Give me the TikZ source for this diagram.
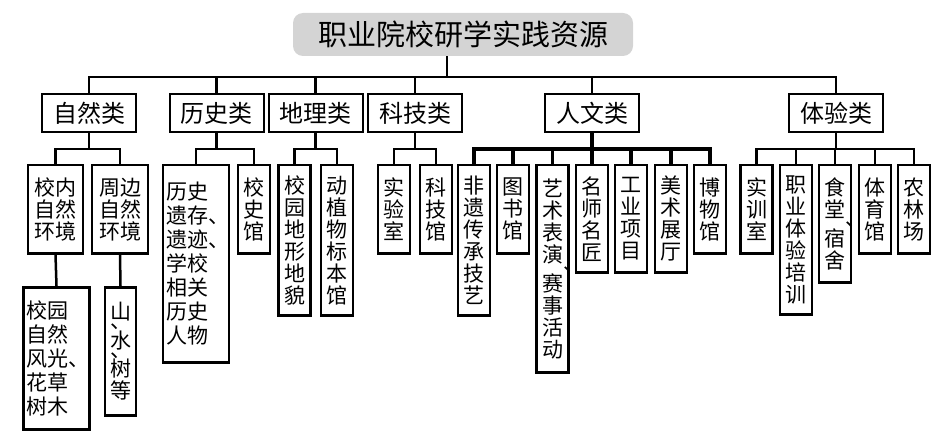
\documentclass[tikz,border=0pt]{standalone}
\usepackage{fontspec}
\newfontfamily\cjk{Noto Sans CJK SC}
\usepackage{tikz}
\definecolor{titlegray}{RGB}{212,212,212}
\newcommand{\dunR}{\rlap{\raisebox{-9pt}{、}}}
\newcommand{\dunL}{\rlap{\hspace{-1em}\raisebox{-9pt}{、}}}
\tikzstyle{title} = [rectangle, rounded corners=10pt, fill=titlegray, minimum width=340pt, minimum height=43pt, inner sep=0pt, font=\cjk\fontsize{29}{30}\selectfont]
\tikzstyle{category} = [rectangle, draw=black, line width=2pt, minimum width=94pt, minimum height=38pt, inner sep=0pt, font=\cjk\fontsize{24}{26}\selectfont]
\tikzstyle{column} = [rectangle, draw=black, line width=2.5pt, anchor=north, minimum width=32pt, inner sep=0pt, align=center, font=\cjk\fontsize{21}{22}\selectfont]
\tikzstyle{wide} = [rectangle, draw=black, line width=2.5pt, anchor=north, text width=60pt, inner xsep=3pt, inner ysep=0pt, align=left, font=\cjk\fontsize{21}{24}\selectfont]
\tikzstyle{link} = [line width=2.5pt]

\begin{document}
\begin{tikzpicture}[x=1pt, y=-1pt]
    \useasboundingbox (0,0) rectangle (948,433);
    % root and categories
    \node (root) [title] at (463,34.5) {职业院校研学实践资源};
    \node (ziran) [category] at (89,113) {自然类};
    \node (lishi) [category] at (216.5,113) {历史类};
    \node (dili) [category] at (315.5,113) {地理类};
    \node (keji) [category] at (415,113) {科技类};
    \node (renwen) [category] at (592,113) {人文类};
    \node (tiyan) [category] at (836,113) {体验类};
    % second level
    \node (xiaonei) [column, minimum width=55pt, minimum height=88pt] at (55.5,164) {校内\\自然\\环境};
    \node (zhoubian) [column, minimum width=56pt, minimum height=88pt] at (120,164) {周边\\自然\\环境};
    \node (yicun) [wide, minimum height=197pt] at (196,164) {历史\\遗存、\\遗迹、\\学校\\相关\\历史\\人物};
    \node (xiaoshi) [column, minimum height=88pt] at (254,164) {校\\史\\馆};
    \node (dimao) [column, minimum height=150pt] at (294.5,164) {校\\园\\地\\形\\地\\貌};
    \node (biaoben) [column, minimum height=150pt] at (337,164) {动\\植\\物\\标\\本\\馆};
    \node (shiyan) [column, minimum height=88pt] at (394,164) {实\\验\\室};
    \node (kejiguan) [column, minimum height=88pt] at (436,164) {科\\技\\馆};
    \node (feiyi) [column, minimum height=150pt] at (474,164) {非\\遗\\传\\承\\技\\艺};
    \node (tushu) [column, minimum height=88pt] at (513,164) {图\\书\\馆};
    \node (yishu) [column, minimum height=207pt] at (552.5,164) {艺\\术\\表\\演\dunR\\赛\\事\\活\\动};
    \node (mingshi) [column, minimum height=107pt] at (592,164) {名\\师\\名\\匠};
    \node (gongye) [column, minimum height=107pt] at (631,164) {工\\业\\项\\目};
    \node (meishu) [column, minimum height=107pt] at (671,164) {美\\术\\展\\厅};
    \node (bowu) [column, minimum height=88pt] at (710,164) {博\\物\\馆};
    \node (shixun) [column, minimum height=88pt] at (756.5,164) {实\\训\\室};
    \node (zhiye) [column, minimum height=149pt] at (796,164) {职\\业\\体\\验\\培\\训};
    \node (shitang) [column, minimum height=117pt] at (835,164) {食\\堂\dunR\\宿\\舍};
    \node (tiyu) [column, minimum height=88pt] at (875,164) {体\\育\\馆};
    \node (nonglin) [column, minimum height=88pt] at (914,164) {农\\林\\场};
    % third level
    \node (xiaoyuan) [wide, minimum height=142pt] at (56.5,286) {校园\\自然\\风光、\\花草\\树木};
    \node (shanshui) [column, minimum width=31pt, minimum height=128pt] at (120.5,286) {山\dunL\\水\dunL\\树\\等};
    % connectors
    \coordinate (rootbus) at (447,77);
    \draw [link] (root.south -| rootbus) -- (rootbus);
    \draw [link] (rootbus) -| (ziran.north);
    \draw [link] (rootbus) -| (lishi.north);
    \draw [link] (rootbus) -| (dili.north);
    \draw [link] (rootbus) -| (keji.north);
    \draw [link] (rootbus) -| (renwen.north);
    \draw [link] (rootbus) -| (tiyan.north);
    \draw [link] (ziran.south) -- ++(0,16) -| (xiaonei.north);
    \draw [link] (ziran.south) -- ++(0,16) -| (zhoubian.north);
    \draw [link] (lishi.south) -- ++(0,16) -| (yicun.north);
    \draw [link] (lishi.south) -- ++(0,16) -| (xiaoshi.north);
    \draw [link] (dili.south) -- ++(0,16) -| (dimao.north);
    \draw [link] (dili.south) -- ++(0,16) -| (biaoben.north);
    \draw [link] (keji.south) -- ++(0,16) -| (shiyan.north);
    \draw [link] (keji.south) -- ++(0,16) -| (kejiguan.north);
    \draw [link, line width=3.5pt] (renwen.south) -- ++(0,16) -| (feiyi.north);
    \draw [link, line width=3.5pt] (renwen.south) -- ++(0,16) -| (tushu.north);
    \draw [link, line width=3.5pt] (renwen.south) -- ++(0,16) -| (yishu.north);
    \draw [link, line width=3.5pt] (renwen.south) -- ++(0,16) -| (mingshi.north);
    \draw [link, line width=3.5pt] (renwen.south) -- ++(0,16) -| (gongye.north);
    \draw [link, line width=3.5pt] (renwen.south) -- ++(0,16) -| (meishu.north);
    \draw [link, line width=3.5pt] (renwen.south) -- ++(0,16) -| (bowu.north);
    \draw [link] (tiyan.south) -- ++(0,16) -| (shixun.north);
    \draw [link] (tiyan.south) -- ++(0,16) -| (zhiye.north);
    \draw [link] (tiyan.south) -- ++(0,16) -| (shitang.north);
    \draw [link] (tiyan.south) -- ++(0,16) -| (tiyu.north);
    \draw [link] (tiyan.south) -- ++(0,16) -| (nonglin.north);
    \draw [link] (xiaonei.south) -- (xiaoyuan.north);
    \draw [link] (zhoubian.south) -- (shanshui.north);
\end{tikzpicture}
\end{document}
